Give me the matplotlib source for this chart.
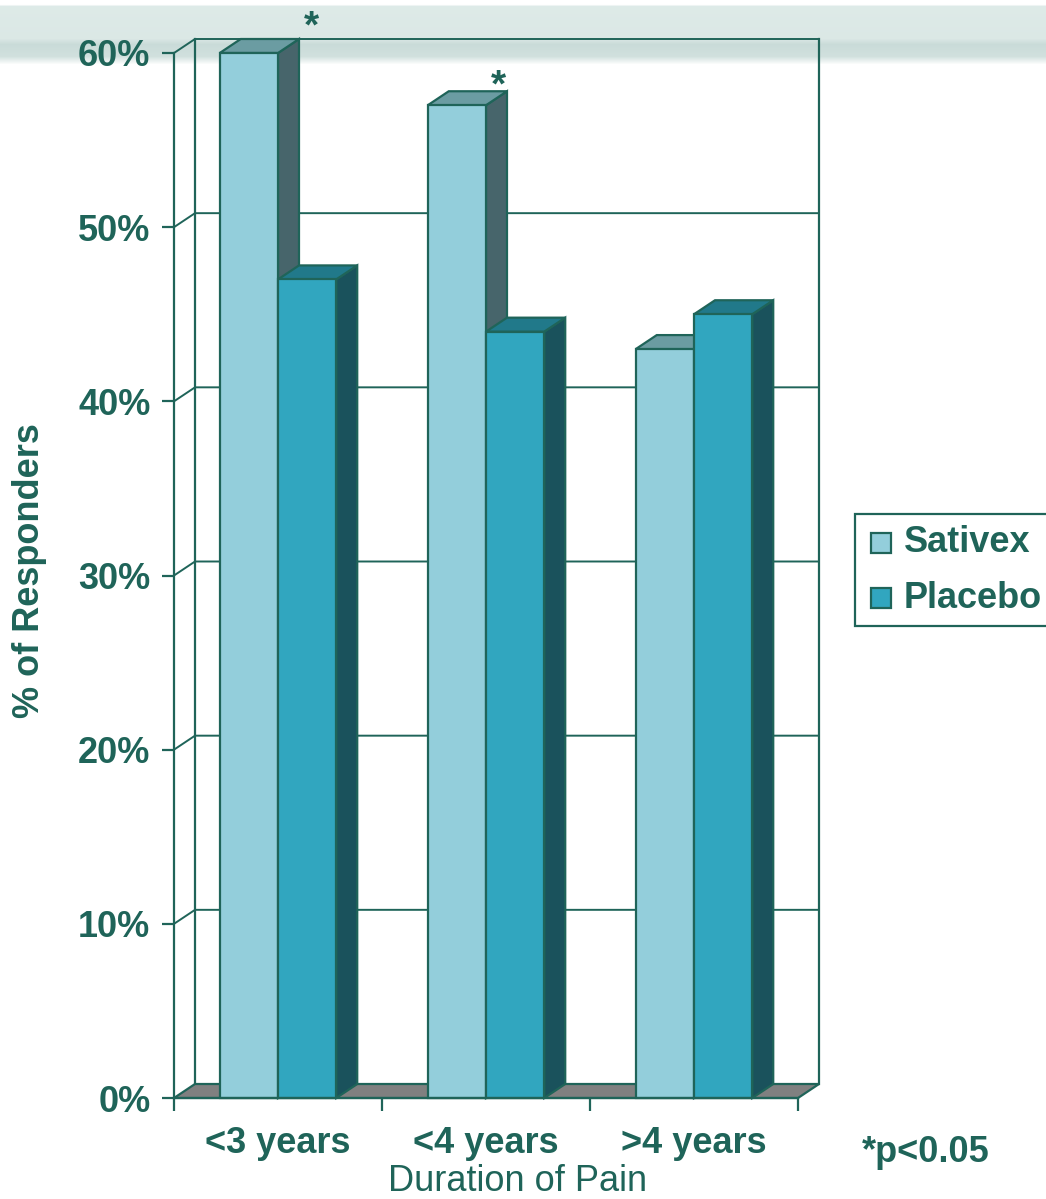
import numpy as np
import matplotlib.pyplot as plt
from matplotlib.patches import Polygon, Rectangle
from matplotlib.lines import Line2D

# data
categories = ["<3 years", "<4 years", ">4 years"]
sativex = [60, 57, 43]
placebo = [47, 44, 45]
significant = [True, True, False]
yticks = [0, 10, 20, 30, 40, 50, 60]
ytick_labels = ["0%", "10%", "20%", "30%", "40%", "50%", "60%"]

GREEN = "#1f6459"
SAT_FRONT, SAT_TOP, SAT_SIDE = "#93cedb", "#6b9ca2", "#47656b"
PLA_FRONT, PLA_TOP, PLA_SIDE = "#31a6bf", "#21798a", "#1a525c"
FLOOR = "#808080"

plt.rcParams['font.family'] = ['Liberation Sans', 'DejaVu Sans']

W, H = 1046, 1199
fig = plt.figure(figsize=(W / 100, H / 100), dpi=100)

# decorative band at the top of the slide
bg = fig.add_axes([0, 0, 1, 1], zorder=0)
bg.set_xlim(0, W)
bg.set_ylim(H, 0)
bg.axis("off")
stops_y = [0, 4, 6, 38, 44, 56, 64]
stops_c = [(1, 1, 1), (1, 1, 1), (0.87, 0.92, 0.91), (0.86, 0.91, 0.90),
           (0.79, 0.86, 0.85), (0.82, 0.88, 0.87), (1, 1, 1)]
ys = np.arange(0, 64)
band = np.stack([np.interp(ys, stops_y, [c[k] for c in stops_c]) for k in range(3)], axis=-1)
band = band[:, None, :].repeat(2, axis=1)
bg.imshow(band, extent=[0, W, 64, 0], aspect="auto", interpolation="bilinear")

# front plane of the chart
x0_px, x1_px, y0_px, y1_px = 174, 798, 1098, 53
ax = fig.add_axes([x0_px / W, 1 - y0_px / H, (x1_px - x0_px) / W, (y0_px - y1_px) / H], zorder=1)
ax.patch.set_alpha(0)
ax.set_xlim(0, len(categories))
ax.set_ylim(0, 60)
DX = 21 / ((x1_px - x0_px) / len(categories))
DY = 14 / ((y0_px - y1_px) / 60)

for s in ["top", "right"]:
    ax.spines[s].set_visible(False)
for s in ["left", "bottom"]:
    ax.spines[s].set_color(GREEN)
    ax.spines[s].set_linewidth(1.6)
    ax.spines[s].set_zorder(6)

ax.set_yticks(yticks)
ax.set_yticklabels(ytick_labels)
ax.tick_params(axis="y", length=9, width=1.6, color=GREEN, pad=8,
               labelsize=26, labelcolor=GREEN)
for t in ax.get_yticklabels():
    t.set_fontweight("bold")

ax.set_xticks(range(len(categories) + 1))
ax.set_xticklabels([])
ax.tick_params(axis="x", which="major", length=9, width=1.6, color=GREEN)
ax.set_xticks([i + 0.5 for i in range(len(categories))], minor=True)
ax.set_xticklabels(categories, minor=True)
ax.tick_params(axis="x", which="minor", length=0, pad=20, labelsize=26, labelcolor=GREEN)
for t in ax.get_xticklabels(minor=True):
    t.set_fontweight("bold")

ax.set_xlabel("Duration of Pain", fontsize=26, color=GREEN)
ax.xaxis.set_label_coords(0.551, -0.063)
ax.set_ylabel("% of Responders", fontsize=26, color=GREEN, fontweight="bold")
ax.yaxis.set_label_coords(-0.203, 0.505)

n = len(categories)
lw = 1.6
# back wall, side wall and gridlines
for t in yticks[1:]:
    ax.add_line(Line2D([0, DX, n + DX], [t, t + DY, t + DY], color=GREEN, lw=1.4,
                       clip_on=False, zorder=1))
ax.add_line(Line2D([DX, DX], [DY, 60 + DY], color=GREEN, lw=lw, clip_on=False, zorder=1))
ax.add_line(Line2D([n + DX, n + DX], [DY, 60 + DY], color=GREEN, lw=lw, clip_on=False, zorder=1))
ax.add_patch(Polygon([(0, 0), (n, 0), (n + DX, DY), (DX, DY)], closed=True,
                     facecolor=FLOOR, edgecolor=GREEN, lw=lw, clip_on=False, zorder=2))


def bar3d(x0, x1, v, front, top, side):
    ax.add_patch(Polygon([(x1, 0), (x1 + DX, DY), (x1 + DX, v + DY), (x1, v)],
                         facecolor=side, edgecolor=GREEN, lw=lw, clip_on=False, zorder=3))
    ax.add_patch(Polygon([(x0, v), (x1, v), (x1 + DX, v + DY), (x0 + DX, v + DY)],
                         facecolor=top, edgecolor=GREEN, lw=lw, clip_on=False, zorder=3))
    ax.add_patch(Rectangle((x0, 0), x1 - x0, v, facecolor=front, edgecolor=GREEN,
                           lw=lw, clip_on=False, zorder=3))


bw = 0.28
star_dx = [0.66, 0.56, 0.6]
star_dy = [0.9, 0.5, 0.5]
for i in range(n):
    left = i + 0.22
    bar3d(left, left + bw, sativex[i], SAT_FRONT, SAT_TOP, SAT_SIDE)
    bar3d(left + bw, left + 2 * bw, placebo[i], PLA_FRONT, PLA_TOP, PLA_SIDE)
    if significant[i]:
        ax.text(i + star_dx[i], sativex[i] + star_dy[i], "*", fontsize=28, fontweight="bold",
                color=GREEN, ha="center", va="baseline", zorder=5, clip_on=False)

# legend box (runs off the right edge)
lg = fig.add_axes([0, 0, 1, 1], zorder=2)
lg.set_xlim(0, W)
lg.set_ylim(H, 0)
lg.axis("off")
lg.patch.set_alpha(0)
lg.add_patch(Rectangle((855, 514), 220, 112, facecolor="white", edgecolor=GREEN, lw=1.6))
for yy, name, col in [(543, "Sativex", SAT_FRONT), (598, "Placebo", PLA_FRONT)]:
    lg.add_patch(Rectangle((871, yy - 10), 20, 20, facecolor=col, edgecolor=GREEN, lw=1.6))
    lg.text(904, yy, name, fontsize=26, fontweight="bold", color=GREEN,
            ha="left", va="center")

fig.text(862 / W, 1 - 1153 / H, "*p<0.05", fontsize=26, fontweight="bold", color=GREEN,
         ha="left", va="center")

fig.savefig("out.png", dpi=100)
